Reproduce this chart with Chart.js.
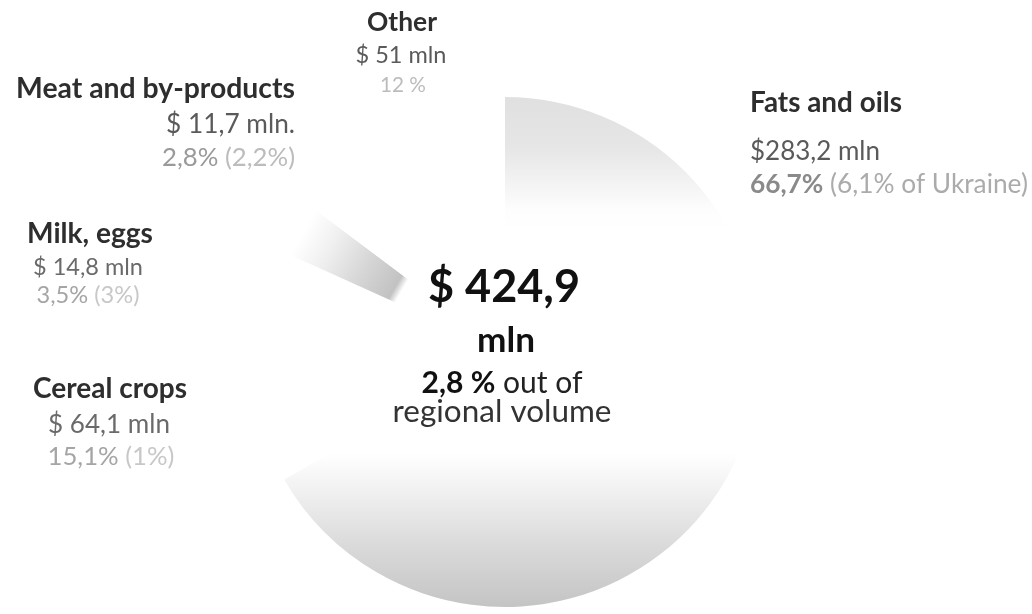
<!DOCTYPE html>
<html>
<head>
<meta charset="utf-8">
<script src="https://cdn.jsdelivr.net/npm/chart.js@4.4.1/dist/chart.umd.min.js"></script>
<style>
  html, body { margin: 0; padding: 0; background: #ffffff; }
  #wrap { width: 1032px; height: 614px; }
</style>
</head>
<body>
<div id="wrap"><canvas id="c" width="1032" height="614"></canvas></div>
<script>
// ---- data ----
const categories = ["Fats and oils", "Cereal crops", "Milk, eggs", "Meat and by-products", "Other"];
const valuesMln = [283.2, 64.1, 14.8, 11.7, 51];
const valueLabels = ["$283,2 mln", "$ 64,1 mln", "$ 14,8 mln", "$ 11,7 mln.", "$ 51 mln"];
const shareLabels = ["66,7%", "15,1%", "3,5%", "2,8%", "12 %"];
const ukraineShareLabels = [" (6,1% of Ukraine)", " (1%)", " (3%)", " (2,2%)", ""];
const totalLabel = "$ 424,9";
const totalUnit = "mln";
const regionalShare = "2,8 %";
const regionalText1 = " out of";
const regionalText2 = "regional volume";

const FONT = "Lato, 'Open Sans', sans-serif";

function sliceFill(context) {
  const chart = context.chart;
  const area = chart.chartArea;
  if (!area) return '#ffffff';
  const c = chart.ctx;
  const i = context.dataIndex;
  const cx = (area.left + area.right) / 2, cy = (area.top + area.bottom) / 2;
  const r = Math.min(area.right - area.left, area.bottom - area.top) / 2;
  if (i === 0) {
    const g = c.createLinearGradient(0, area.top, 0, area.bottom);
    g.addColorStop(0.00, '#e0e0e0');
    g.addColorStop(0.10, '#e6e6e6');
    g.addColorStop(0.17, '#f3f3f3');
    g.addColorStop(0.22, '#fdfdfd');
    g.addColorStop(0.26, '#ffffff');
    g.addColorStop(0.70, '#ffffff');
    g.addColorStop(0.78, '#efefef');
    g.addColorStop(0.88, '#dadada');
    g.addColorStop(1.00, '#c4c4c4');
    return g;
  }
  if (i === 2) {
    // gradient along the slice's mid direction (about 300 degrees from top)
    const a = (300 - 90) * Math.PI / 180;
    const ux = Math.cos(a), uy = Math.sin(a);
    const g = c.createLinearGradient(cx, cy, cx + ux * r, cy + uy * r);
    g.addColorStop(0.00, '#ffffff');
    g.addColorStop(0.47, '#ffffff');
    g.addColorStop(0.50, '#c2c2c2');
    g.addColorStop(0.64, '#d6d6d6');
    g.addColorStop(0.80, '#f0f0f0');
    g.addColorStop(0.92, '#ffffff');
    g.addColorStop(1.00, '#ffffff');
    return g;
  }
  return '#ffffff';
}

// text block layout: [align, x, baseline, targetWidth, segments]
function labelBlocks() {
  const dark = '#2e2e2e', mid = '#5a5a5a', light = '#9a9a9a', lighter = '#bcbcbc';
  return [
    ['center', 402, 31, 70,  [[categories[4], 'bold', dark]]],
    ['center', 401, 63, 91,  [[valueLabels[4], 'normal', mid]]],
    ['center', 403, 92, 46,  [[shareLabels[4], 'normal', lighter]]],

    ['right', 295, 98, 279,  [[categories[3], 'bold', dark]]],
    ['right', 295, 133, 129, [[valueLabels[3], 'normal', mid]]],
    ['right', 295, 166, 133, [[shareLabels[3], 'normal', light], [ukraineShareLabels[3], 'normal', lighter]]],

    ['left', 750, 112, 152,  [[categories[0], 'bold', dark]]],
    ['left', 750, 160, 130,  [[valueLabels[0], 'normal', mid]]],
    ['left', 750, 193, 278,  [[shareLabels[0], 'bold', '#8a8a8a'], [ukraineShareLabels[0], 'normal', '#ababab']]],

    ['center', 90, 243, 126, [[categories[2], 'bold', dark]]],
    ['center', 88, 275, 110, [[valueLabels[2], 'normal', '#6a6a6a']]],
    ['center', 88, 303, 103, [[shareLabels[2], 'normal', '#a5a5a5'], [ukraineShareLabels[2], 'normal', '#c8c8c8']]],

    ['center', 110, 398, 154, [[categories[1], 'bold', dark]]],
    ['center', 109, 433, 122, [[valueLabels[1], 'normal', '#6a6a6a']]],
    ['center', 111, 465, 127, [[shareLabels[1], 'normal', '#a5a5a5'], [ukraineShareLabels[1], 'normal', '#c8c8c8']]],

    ['center', 504, 302, 152, [[totalLabel, 'bold', '#111111']]],
    ['center', 506, 352, 58,  [[totalUnit, 'bold', '#111111']]],
    ['center', 502, 393, 161, [[regionalShare, 'bold', '#111111'], [regionalText1, 'normal', '#222222']]],
    ['center', 502, 422, 219, [[regionalText2, 'normal', '#333333']]]
  ];
}

const textPlugin = {
  id: 'textLabels',
  afterDraw(chart) {
    const c = chart.ctx;
    c.save();
    c.textBaseline = 'alphabetic';
    c.textAlign = 'left';
    for (const [align, x, y, tw, segs] of labelBlocks()) {
      const base = 20;
      let w = 0;
      for (const [t, wt] of segs) { c.font = wt + ' ' + base + 'px ' + FONT; w += c.measureText(t).width; }
      const size = base * tw / w;
      let total = 0;
      const widths = segs.map(([t, wt]) => { c.font = wt + ' ' + size + 'px ' + FONT; const m = c.measureText(t).width; total += m; return m; });
      let sx = align === 'left' ? x : align === 'right' ? x - total : x - total / 2;
      segs.forEach(([t, wt, col], k) => {
        c.font = wt + ' ' + size + 'px ' + FONT;
        c.fillStyle = col;
        c.fillText(t, sx, y);
        sx += widths[k];
      });
    }
    c.restore();
  }
};

new Chart(document.getElementById('c'), {
  type: 'pie',
  data: {
    labels: categories,
    datasets: [{
      data: valuesMln,
      backgroundColor: sliceFill,
      borderWidth: 0,
      hoverOffset: 0
    }]
  },
  options: {
    responsive: false,
    animation: false,
    layout: { padding: { left: 250, right: 272, top: 97, bottom: 7 } },
    plugins: {
      legend: { display: false },
      tooltip: { enabled: false }
    }
  },
  plugins: [textPlugin]
});
</script>
</body>
</html>
